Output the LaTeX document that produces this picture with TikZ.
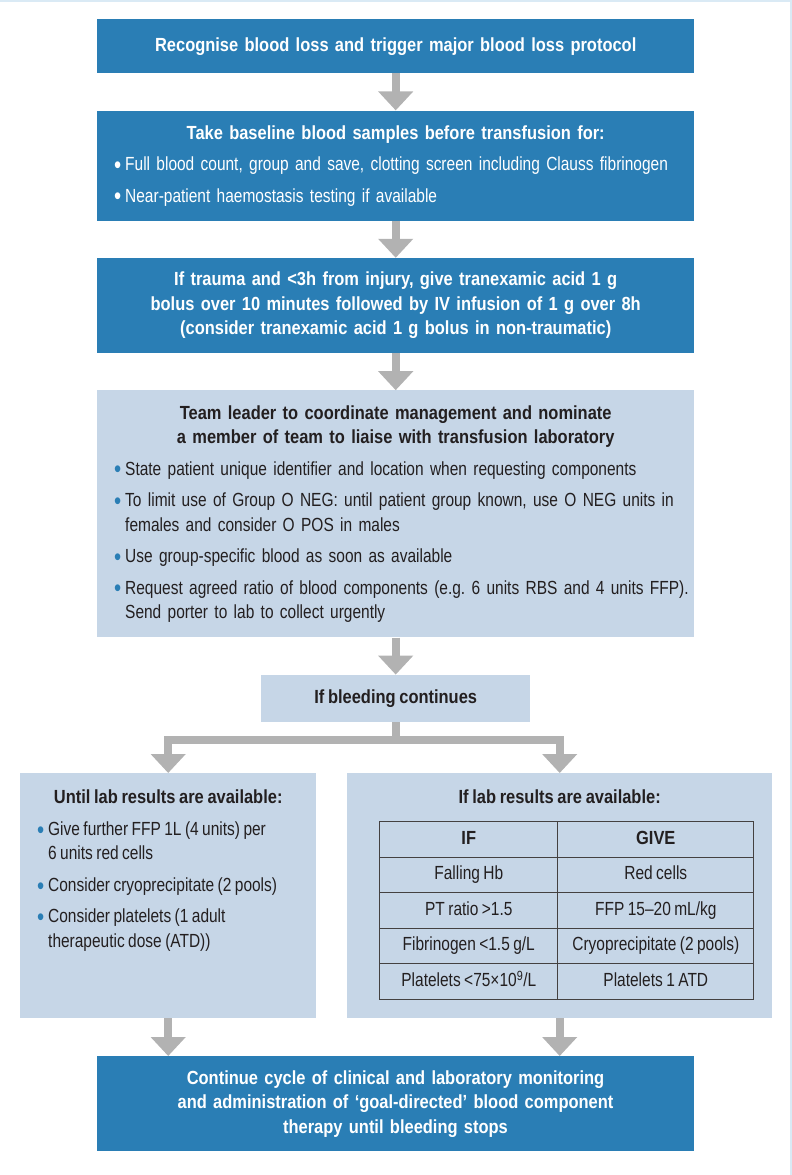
\documentclass[tikz,border=0pt]{standalone}
\usepackage{fontspec}
\setmainfont{Liberation Sans}[WordSpace=0.8, UprightFeatures={FakeStretch=0.815}, BoldFeatures={FakeStretch=0.866}]
\usepackage{xcolor}
\usepackage{tikz}
\usetikzlibrary{positioning,arrows.meta,matrix}

\definecolor{nhsblue}{RGB}{42,126,181}
\definecolor{paleblue}{RGB}{198,214,231}
\definecolor{arrowgrey}{RGB}{178,178,178}
\definecolor{inkdark}{RGB}{35,31,32}
\definecolor{edgetint}{RGB}{218,234,245}

\newcommand{\bpt}[2][white]{\par{\raggedright\rightskip=-30pt plus 1fil\hangindent=11pt\hangafter=1\noindent\makebox[11pt][l]{\color{#1}\raisebox{-2.6pt}{\fontsize{25}{25}\selectfont\textbullet}}#2\par}}
\newcommand{\bodyfont}{\fontsize{19}{24.5}\selectfont\frenchspacing}

\begin{document}
\begin{tikzpicture}[x=1pt, y=-1pt, node distance=37pt,
    darkbox/.style={rectangle, fill=nhsblue, text=white, inner xsep=17pt, inner ysep=0pt, text width=563pt, font=\bodyfont, execute at begin node=\setlength{\parskip}{7pt}},
    palebox/.style={rectangle, fill=paleblue, text=inkdark, inner xsep=17pt, inner ysep=0pt, font=\bodyfont, execute at begin node=\setlength{\parskip}{7pt}},
    flowarrow/.style={draw=arrowgrey, line width=8pt, -{Triangle[width=34pt,length=19pt]}},
    labcell/.style={draw=inkdark!85, line width=1.2pt, minimum height=35.5pt, text height=13.5pt, text depth=4pt, inner sep=0pt, anchor=center, font=\bodyfont, text=inkdark}]
    \useasboundingbox (0,0) rectangle (792,1175);
    \draw[edgetint, line width=2pt] (0,1) -- (792,1);
    \draw[edgetint, line width=2pt] (791,0) -- (791,1175);

    \node[darkbox, anchor=north west, minimum height=54pt, align=center, font=\bodyfont\bfseries] (recog) at (97,19)
        {Recognise blood loss and trigger major blood loss protocol};
    \node[darkbox, minimum height=110pt, below=of recog] (samples)
        {{\centering\bfseries Take baseline blood samples before transfusion for:\par}
        \bpt{Full blood count, group and save, clotting screen including Clauss fibrinogen}
        \bpt{Near-patient haemostasis testing if available}};
    \node[darkbox, minimum height=95pt, align=center, font=\bodyfont\bfseries, below=of samples] (tranex)
        {If trauma and <3h from injury, give tranexamic acid 1 g\\
        bolus over 10 minutes followed by IV infusion of 1 g over 8h\\
        (consider tranexamic acid 1 g bolus in non-traumatic)};
    \node[palebox, text width=563pt, minimum height=247pt, below=of tranex] (teamlead)
        {{\centering\bfseries Team leader to coordinate management and nominate\\
        a member of team to liaise with transfusion laboratory\par}
        \bpt[nhsblue]{State patient unique identifier and location when requesting components}
        \bpt[nhsblue]{To limit use of Group O NEG: until patient group known, use O NEG units in\newline females and consider O POS in males}
        \bpt[nhsblue]{Use group-specific blood as soon as available}
        \bpt[nhsblue]{Request agreed ratio of blood components (e.g. 6 units RBS and 4 units FFP).\newline Send porter to lab to collect urgently}};
    \node[palebox, minimum width=269pt, minimum height=47pt, font=\bodyfont\bfseries, below=of teamlead] (bleeding)
        {If bleeding continues};

    \node[palebox, anchor=north west, minimum width=296pt, minimum height=245pt, inner ysep=17pt] (untillab) at (20,773)
        {\begin{minipage}[c][211pt][t]{262pt}\setlength{\parskip}{7pt}
        {\centering\bfseries Until lab results are available:\par}
        \bpt[nhsblue]{Give further FFP 1L (4 units) per\newline 6 units red cells}
        \bpt[nhsblue]{Consider cryoprecipitate (2 pools)}
        \bpt[nhsblue]{Consider platelets (1 adult\newline therapeutic dose (ATD))}
        \end{minipage}};
    \node[palebox, anchor=north west, minimum width=425pt, minimum height=245pt, inner ysep=17pt] (withlab) at (347,773)
        {\begin{minipage}[c][211pt][t]{391pt}
        {\centering\bfseries If lab results are available:\par}
        \end{minipage}};
    \matrix (labtab) [matrix of nodes, anchor=north west, inner sep=0pt, column sep=-1.2pt, row sep=-1.2pt,
        nodes={labcell}, column 1/.style={nodes={minimum width=178pt}},
        column 2/.style={nodes={minimum width=196pt}},
        row 1/.style={nodes={font=\bodyfont\bfseries}}] at (379,821) {
        IF & GIVE \\
        Falling Hb & Red cells \\
        PT ratio >1.5 & FFP 15–20 mL/kg \\
        Fibrinogen <1.5 g/L & Cryoprecipitate (2 pools) \\
        Platelets <75×10\textsuperscript{9}/L & Platelets 1 ATD \\
    };

    \node[darkbox, anchor=north, minimum height=95pt, align=center, font=\bodyfont\bfseries] (final) at (395.5,1056)
        {Continue cycle of clinical and laboratory monitoring\\
        and administration of `goal-directed' blood component\\
        therapy until bleeding stops};

    \draw[flowarrow] (recog) -- (samples);
    \draw[flowarrow] (samples) -- (tranex);
    \draw[flowarrow] (tranex) -- (teamlead);
    \draw[flowarrow] (teamlead) -- (bleeding);
    \draw[flowarrow] (bleeding.south) -- ++(0,18) -| (untillab);
    \draw[flowarrow] (bleeding.south) -- ++(0,18) -| (withlab);
    \draw[flowarrow] (untillab) -- (untillab |- final.north);
    \draw[flowarrow] (withlab) -- (withlab |- final.north);
\end{tikzpicture}
\end{document}
